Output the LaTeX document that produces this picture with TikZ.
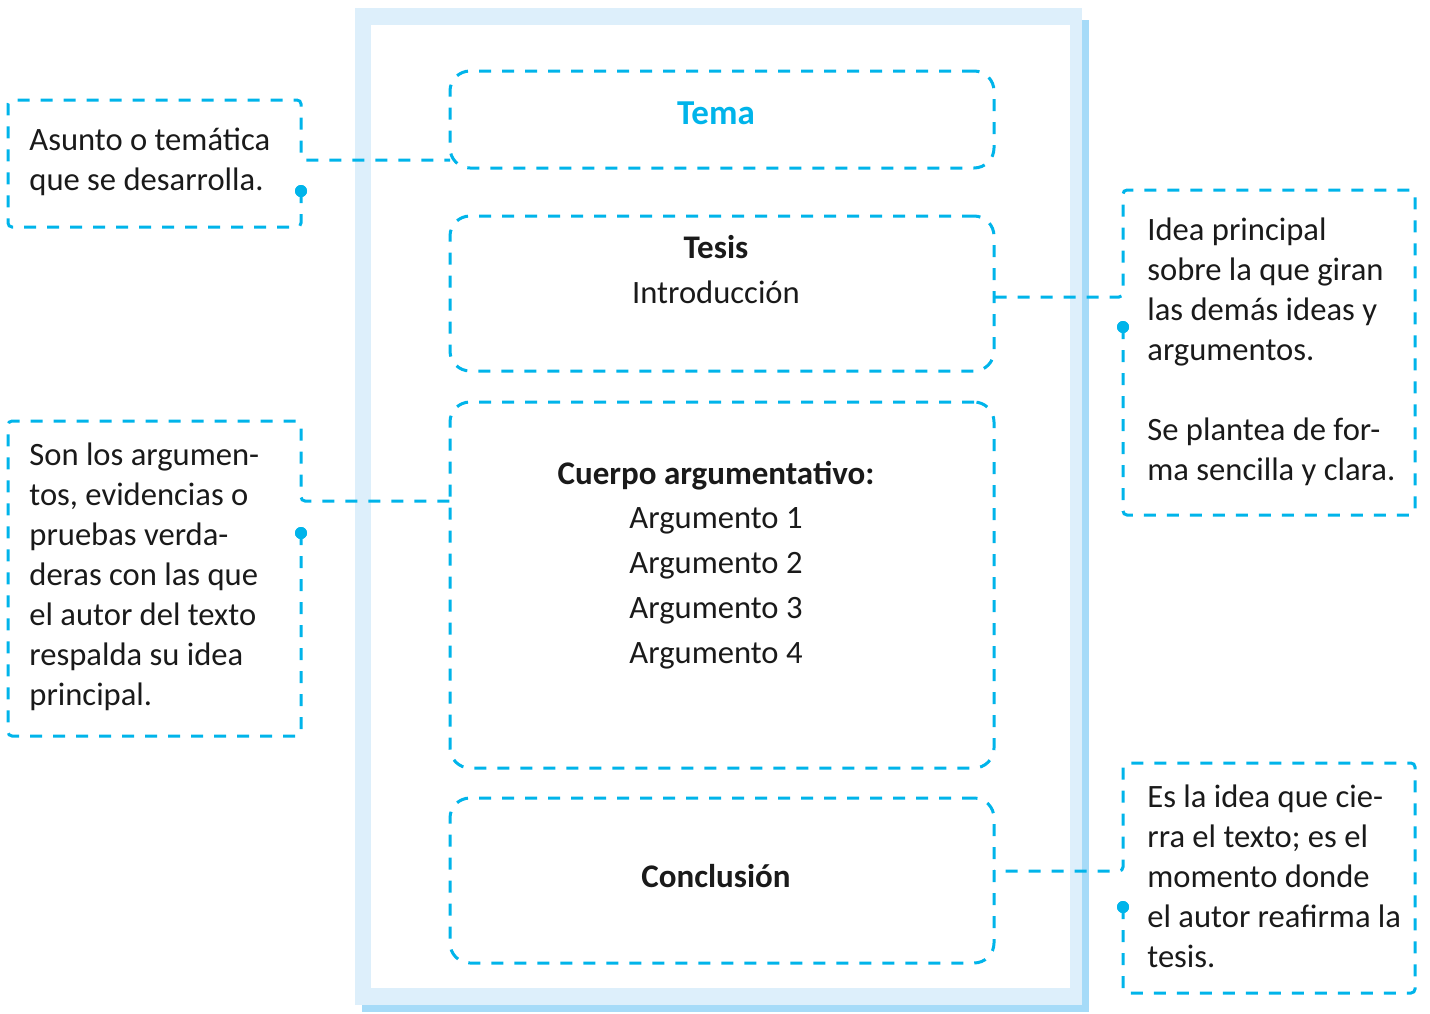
\documentclass[tikz,border=0pt]{standalone}
\usepackage{fontspec}
\setmainfont{Carlito}
\usetikzlibrary{calc}
\definecolor{cian}{HTML}{00B4EA}
\definecolor{marco}{HTML}{DDEFFB}
\definecolor{sombra}{HTML}{A6DBF8}
\definecolor{tinta}{HTML}{1A1A1A}

\begin{document}
\begin{tikzpicture}[x=0.5pt,y=-0.5pt,
  punteado/.style={draw=cian,line width=1.5pt,dash pattern=on 6pt off 5.5pt},
  caja/.style={punteado,rounded corners=10pt,minimum width=272pt,inner sep=0pt,outer sep=0pt},
  nota/.style={inner sep=0pt,outer sep=0pt,minimum width=146.5pt},
  punto/.style={circle,fill=cian,inner sep=0pt,minimum size=6pt},
  txt/.style={text=tinta,font=\fontsize{16.3}{20}\selectfont,inner sep=0pt,anchor=base},
  negrita/.style={txt,font=\fontsize{16.5}{20}\selectfont\bfseries},
  notatxt/.style={txt,align=left,anchor=north west}]
\useasboundingbox (0,0) rectangle (1430,1013);
\fill[sombra] (362,20) rectangle (1089,1012);
\fill[marco] (355,8) rectangle (1082,1005);
\fill[white] (371,25) rectangle (1070,988);

\node[caja,minimum height=48.5pt] (tema) at (722,119.5) {};
\node[caja,minimum height=77.5pt] (tesis) at (722,293.5) {};
\node[caja,minimum height=183pt] (cuerpo) at (722,585) {};
\node[caja,minimum height=82.5pt] (concl) at (722,880.5) {};

\node[negrita,text=cian,font=\fontsize{17.5}{21}\selectfont\bfseries] (tematxt) at (716,124) {Tema};
\node[negrita] (tesistxt) at (716,258) {Tesis};
\node[txt] (intro) at (716,303) {Introducción};
\node[negrita] (cuerpotxt) at (716,484) {Cuerpo argumentativo:};
\foreach \i in {1,...,4}
  \node[txt] (arg\i) at (716,483+45*\i) {Argumento \i};
\node[negrita] (concltxt) at (716,887) {Conclusión};

\node[nota,minimum height=63.5pt] (asunto) at (154.5,163.5) {};
\node[notatxt] (asuntotxt) at (29,122) {\strut Asunto o temática\\que se desarrolla.};
\node[nota,minimum height=157.5pt] (prueba) at (154.5,578.5) {};
\node[notatxt] (pruebatxt) at (29,437) {\strut Son los argumen-\\tos, evidencias o\\pruebas verda-\\deras con las que\\el autor del texto\\respalda su idea\\principal.};
\node[nota,minimum width=146pt,minimum height=162.5pt] (idea) at (1269,352.5) {};
\node[notatxt] (ideatxt) at (1147,212) {\strut Idea principal\\sobre la que giran\\las demás ideas y\\argumentos.\\[20pt]Se plantea de for-\\ma sencilla y clara.};
\node[nota,minimum width=146pt,minimum height=115pt] (cierre) at (1269,878) {};
\node[notatxt] (cierretxt) at (1147,779) {\strut Es la idea que cie-\\rra el texto; es el\\momento donde\\el autor reafirma la\\tesis.};

\coordinate (lA) at (301,160);
\coordinate (lB) at (301,501);
\coordinate (lC) at (1123,297);
\coordinate (lD) at (1123,871);
\node[punto] (pA) at (301,191) {};
\node[punto] (pB) at (301,533) {};
\node[punto] (pC) at (1123,327) {};
\node[punto] (pD) at (1123,907) {};

\draw[punteado,rounded corners=2pt] (pA.center) -- (asunto.south east) -- (asunto.south west) -- (asunto.north west) -- (asunto.north east) -- (lA) -- (tema.west |- lA);
\draw[punteado,rounded corners=2pt] (pB.center) -- (prueba.south east) -- (prueba.south west) -- (prueba.north west) -- (prueba.north east) -- (lB) -- (cuerpo.west |- lB);
\draw[punteado,rounded corners=2pt] (pC.center) -- (idea.south west) -- (idea.south east) -- (idea.north east) -- (idea.north west) -- (lC) -- (tesis.east |- lC);
\draw[punteado,rounded corners=2pt] (pD.center) -- (cierre.south west) -- (cierre.south east) -- (cierre.north east) -- (cierre.north west) -- (lD) -- (concl.east |- lD);
\node[punto] at (pA) {};
\node[punto] at (pB) {};
\node[punto] at (pC) {};
\node[punto] at (pD) {};
\end{tikzpicture}
\end{document}
